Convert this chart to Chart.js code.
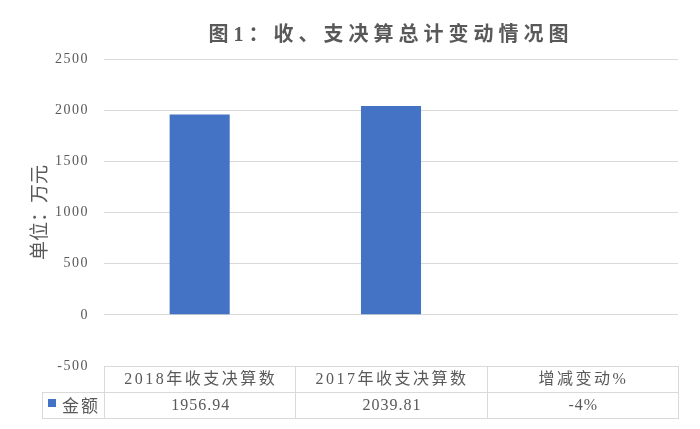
<!DOCTYPE html>
<html>
<head>
<meta charset="utf-8">
<script src="https://cdn.jsdelivr.net/npm/chart.js@4"></script>
<style>
html,body{margin:0;padding:0;background:#fff;}
#wrap{width:700px;height:429px;}
</style>
</head>
<body>
<div id="wrap"><canvas id="c" width="700" height="429"></canvas></div>
<script>
// ---- data ----
const chartTitle = '图1：收、支决算总计变动情况图';
const yAxisTitle = '单位：万元';
const categories = ['2018年收支决算数', '2017年收支决算数', '增减变动%'];
const seriesName = '金额';
const seriesValues = [1956.94, 2039.81, -4];
const tableLabels = ['1956.94', '2039.81', '-4%'];
const yTicks = [-500, 0, 500, 1000, 1500, 2000, 2500];

const GRAY = '#595959';
const LINE = '#d9d9d9';
const BLUE = '#4472C4';
const SERIF = "'Liberation Serif','Noto Sans CJK SC'";

const spacingPlugin = {
  id: 'spacing',
  beforeDraw(chart) {
    const tb = chart.titleBlock;
    if (tb && !tb._wrapped) {
      const orig = tb.draw;
      tb.draw = function (a) {
        const ctx = this.ctx; ctx.save(); ctx.letterSpacing = '5px';
        orig.call(this, a); ctx.restore();
      };
      tb._wrapped = true;
    }
    const ys = chart.scales.y;
    if (ys && !ys._wrapped) {
      const origL = ys.drawLabels;
      ys.drawLabels = function (a) {
        const ctx = this.ctx; ctx.save(); ctx.letterSpacing = '1.5px';
        origL.call(this, a); ctx.restore();
      };
      ys._wrapped = true;
    }
  }
};

const tablePlugin = {
  id: 'dataTable',
  afterDraw(chart) {
    const ctx = chart.ctx;
    const x = chart.scales.x;
    const area = chart.chartArea;
    const n = categories.length;
    const colW = (area.right - area.left) / n;
    const rowH = 26;
    const top = Math.round(area.bottom);
    const mid = top + rowH, bot = top + 2 * rowH;
    const legendLeft = 42;
    ctx.save();
    ctx.strokeStyle = LINE;
    ctx.lineWidth = 1;
    ctx.beginPath();
    ctx.moveTo(area.left, top + 0.5); ctx.lineTo(area.right, top + 0.5);
    ctx.moveTo(legendLeft, mid + 0.5); ctx.lineTo(area.right, mid + 0.5);
    ctx.moveTo(legendLeft, bot + 0.5); ctx.lineTo(area.right, bot + 0.5);
    for (let i = 0; i <= n; i++) {
      const xx = Math.round(area.left + i * colW) + 0.5;
      ctx.moveTo(xx, top); ctx.lineTo(xx, bot + 1);
    }
    ctx.moveTo(legendLeft + 0.5, mid); ctx.lineTo(legendLeft + 0.5, bot + 1);
    ctx.stroke();

    ctx.fillStyle = GRAY;
    ctx.textAlign = 'center';
    ctx.textBaseline = 'middle';
    ctx.font = "16px " + SERIF;
    ctx.letterSpacing = '2.5px';
    categories.forEach((c, i) => {
      ctx.fillText(c, x.getPixelForValue(i) + 1, top + rowH / 2 + 1);
    });
    ctx.letterSpacing = '1px';
    tableLabels.forEach((t, i) => {
      ctx.fillText(t, x.getPixelForValue(i) + 1, mid + rowH / 2 + 1);
    });
    // legend key
    ctx.fillStyle = BLUE;
    ctx.fillRect(48, mid + 7, 8, 8);
    ctx.fillStyle = GRAY;
    ctx.textAlign = 'left';
    ctx.font = "17px 'Noto Sans CJK SC'";
    ctx.letterSpacing = '2px';
    ctx.fillText(seriesName, 62, mid + rowH / 2 + 1);
    ctx.restore();
  }
};

new Chart(document.getElementById('c'), {
  type: 'bar',
  data: {
    labels: categories,
    datasets: [{
      label: seriesName,
      data: seriesValues,
      backgroundColor: BLUE,
      borderWidth: 0,
      barPercentage: 0.314,
      categoryPercentage: 1
    }]
  },
  options: {
    responsive: false,
    animation: false,
    devicePixelRatio: 1,
    layout: { padding: { left: 0, right: 22, top: 0, bottom: 63 } },
    plugins: {
      legend: { display: false },
      tooltip: { enabled: false },
      title: {
        display: true,
        text: chartTitle,
        fullSize: false,
        color: GRAY,
        font: { size: 20, weight: 'bold', family: SERIF, lineHeight: 1.2 },
        padding: { top: 24, bottom: 11 }
      }
    },
    scales: {
      x: { display: false },
      y: {
        min: -500, max: 2500,
        afterBuildTicks(s) { s.ticks = yTicks.map(v => ({ value: v })); },
        afterFit(s) { s.width = 104; },
        grid: { color: LINE, lineWidth: 1, drawTicks: false },
        border: { display: false },
        ticks: { color: GRAY, padding: 15, font: { size: 14, family: SERIF },
                 callback: (v) => String(v) },
        title: {
          display: true, text: yAxisTitle, color: GRAY,
          font: { size: 19, family: "'Noto Sans CJK SC'", lineHeight: 1.2 },
          padding: { top: 27, bottom: 0 }
        }
      }
    }
  },
  plugins: [spacingPlugin, tablePlugin]
});
</script>
</body>
</html>
